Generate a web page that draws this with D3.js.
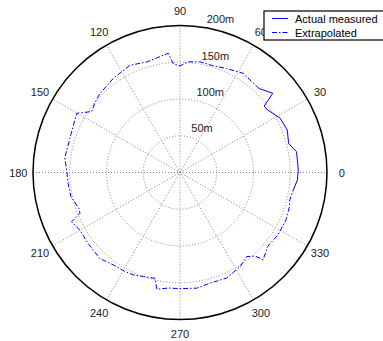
<!DOCTYPE html>
<html>
<head>
<meta charset="utf-8">
<script src="https://cdn.jsdelivr.net/npm/d3@7"></script>
<style>
  html, body { margin: 0; padding: 0; background: #fff; }
  svg { display: block; font-family: "Liberation Sans", Arial, Helvetica, sans-serif; }
</style>
</head>
<body>
<svg id="chart" width="383" height="341"></svg>
<script>
// Range rings (metres) and spoke angles (degrees)
const ringValues = [50, 100, 150, 200];
const ringLabels = ["50m", "100m", "150m", "200m"];
const spokeAngles = [0, 30, 60, 90, 120, 150];
const angleLabels = [0, 30, 60, 90, 120, 150, 180, 210, 240, 270, 300, 330];

// Measured range profile (angle in degrees, range in metres)
const measuredAngles = [-8.8, -3.7, 1.2, 10.1, 15.0, 21.6, 28.5, 36.1, 38.3, 40.5, 46.7];
const measuredRange  = [156, 160, 161, 161, 153, 157, 155, 146, 146, 166, 157];

// Extrapolated range profile over the remaining bearings
const extrapAngles = [46.7, 48.2, 57.5, 65.9, 73.6, 79.8, 85.7, 90, 93.5, 95.6,
  106.8, 115.0, 125.3, 135.3, 140.2, 145.4, 150.2, 162, 172.8, 179.2,
  185.5, 192.5, 199.7, 202.2, 204.4, 210.2, 217.7, 227, 234.2, 241,
  245.5, 250.6, 256.7, 258.8, 264.2, 270, 278.2, 285.1, 293.8, 302.5,
  308.4, 312, 313.6, 320, 327.7, 335.9, 342.6, 346, 351.2];
const extrapRange = [157, 157, 160, 155, 152, 153, 151, 145, 148, 163,
  157, 161, 157, 153, 150, 146, 162, 157, 158, 154,
  153, 152, 146, 147, 162, 157, 158, 160, 155, 154,
  153, 150, 148, 162, 158, 158, 159, 156, 157, 152,
  146, 153, 164, 156, 158, 158, 156, 154, 156];

const legendNames = ["Actual measured", "Extrapolated"];

const svg = d3.select("#chart");
const cx = 180, cy = 172.5, R = 147;
const rMax = d3.max(ringValues);

const r = d3.scaleLinear().domain([0, rMax]).range([0, R]);
const toRad = d => d * Math.PI / 180;

const g = svg.append("g").attr("transform", `translate(${cx},${cy})`);

const gridColor = "#808080";
const gridDash = "1,2";

// Spokes: full diameters
g.selectAll("line.spoke").data(spokeAngles).join("line")
  .attr("class", "spoke")
  .attr("x1", d => -r(rMax) * Math.cos(toRad(d)))
  .attr("y1", d => r(rMax) * Math.sin(toRad(d)))
  .attr("x2", d => r(rMax) * Math.cos(toRad(d)))
  .attr("y2", d => -r(rMax) * Math.sin(toRad(d)))
  .attr("stroke", gridColor)
  .attr("stroke-width", 1)
  .attr("stroke-dasharray", gridDash);

// Inner rings (dotted)
g.selectAll("circle.ring").data(ringValues.slice(0, -1)).join("circle")
  .attr("class", "ring")
  .attr("r", d => r(d))
  .attr("fill", "none")
  .attr("stroke", gridColor)
  .attr("stroke-width", 1)
  .attr("stroke-dasharray", gridDash);

// Outer boundary
g.append("circle")
  .attr("r", r(rMax))
  .attr("fill", "none")
  .attr("stroke", "#000")
  .attr("stroke-width", 1.5);

// Ring labels along the 82 degree bearing
const labelAng = toRad(82);
const rInc = ringValues[1] - ringValues[0];
g.selectAll("text.ringlab").data(ringValues).join("text")
  .attr("class", "ringlab")
  .attr("x", (d) => r(d + rInc / 20) * Math.cos(labelAng) + 6)
  .attr("y", (d) => -r(d + rInc / 20) * Math.sin(labelAng) - 2)
  .attr("font-size", 11)
  .attr("fill", "#222")
  .text((d, i) => ringLabels[i]);

// Bearing labels
g.selectAll("text.anglab").data(angleLabels).join("text")
  .attr("class", "anglab")
  .attr("x", d => r(rMax * 1.1) * Math.cos(toRad(d)))
  .attr("y", d => -r(rMax * 1.1) * Math.sin(toRad(d)))
  .attr("text-anchor", "middle")
  .attr("dominant-baseline", "central")
  .attr("font-size", 11)
  .attr("fill", "#222")
  .text(d => d);

// Data lines
const radial = d3.lineRadial()
  .angle(d => Math.PI / 2 - toRad(d[0]))
  .radius(d => r(d[1]));

const measured = measuredAngles.map((a, i) => [a, measuredRange[i]]);
const extrap = extrapAngles.map((a, i) => [a, extrapRange[i]]);

g.append("path")
  .attr("d", radial(extrap))
  .attr("fill", "none")
  .attr("stroke", "#0000ff")
  .attr("stroke-width", 1)
  .attr("stroke-dasharray", "5,2,1.5,2");

g.append("path")
  .attr("d", radial(measured))
  .attr("fill", "none")
  .attr("stroke", "#0000ff")
  .attr("stroke-width", 1);

// Legend
const lg = svg.append("g").attr("transform", "translate(264,11)");
lg.append("rect")
  .attr("x", 0).attr("y", 0)
  .attr("width", 130).attr("height", 29)
  .attr("fill", "#fff")
  .attr("stroke", "#000")
  .attr("stroke-width", 1.2);
const styles = [null, "5,2,1.5,2"];
legendNames.forEach((name, i) => {
  const y = 7.5 + i * 14;
  lg.append("line")
    .attr("x1", 8).attr("x2", 24)
    .attr("y1", y).attr("y2", y)
    .attr("stroke", "#0000ff")
    .attr("stroke-width", 1)
    .attr("stroke-dasharray", styles[i]);
  lg.append("text")
    .attr("x", 31).attr("y", y)
    .attr("dominant-baseline", "central")
    .attr("font-size", 11)
    .attr("fill", "#000")
    .text(name);
});
</script>
</body>
</html>
